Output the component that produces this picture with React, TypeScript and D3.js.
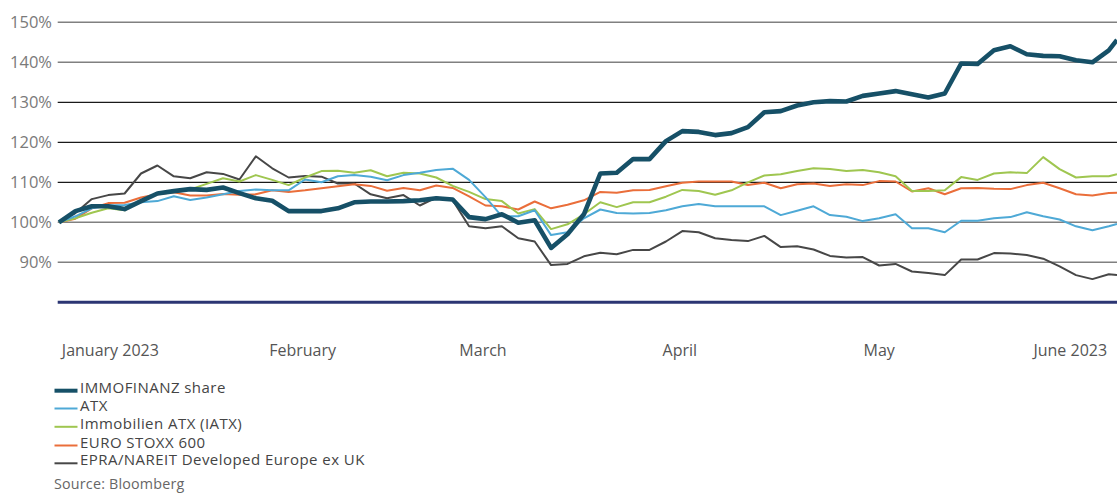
import { useMemo } from 'react'
import { scaleLinear, line, timeDay, range } from 'd3'

// trading days Jan 2 – Jun 30 2023, every second one plus the last
const allDays = timeDay
  .range(new Date(2023, 0, 2), new Date(2023, 6, 1))
  .filter((d) => d.getDay() !== 0 && d.getDay() !== 6)
const sampleIdx = [...range(0, allDays.length - 1, 2), allDays.length - 1]

const immofinanz = [
  100, 102.8, 104, 104, 103.3, 105.3, 107.2, 107.8, 108.3, 108.1, 108.7, 107.3, 106, 105.4, 102.8, 102.8,
  102.8, 103.5, 105, 105.2, 105.2, 105.3, 105.5, 106, 105.7, 101.3, 100.8, 102, 99.9, 100.5, 93.6, 97,
  102, 112.2, 112.4, 115.8, 115.8, 120.3, 122.8, 122.6, 121.8, 122.3, 123.8, 127.5, 127.8, 129.2, 130, 130.3,
  130.2, 131.6, 132.2, 132.8, 132, 131.2, 132.2, 139.7, 139.6, 143, 144, 142, 141.6, 141.5, 140.5, 140, 143,
  145.6,
]
const atx = [
  100, 101.5, 103.5, 104.2, 104.3, 105, 105.3, 106.5, 105.6, 106.2, 107, 107.8, 108.2, 108, 108, 110.7, 110,
  111.5, 111.8, 111.4, 110.5, 111.8, 112.4, 113.1, 113.4, 110.6, 106.3, 101.5, 101.5, 103, 96.8, 97.5, 101,
  103.2, 102.3, 102.2, 102.3, 103, 104, 104.6, 104, 104, 104, 104, 101.8, 102.9, 104, 101.8, 101.4, 100.3,
  101, 102, 98.5, 98.5, 97.5, 100.4, 100.4, 101, 101.3, 102.5, 101.5, 100.7, 99, 98, 99, 99.6,
]
const iatx = [
  100, 101, 102.4, 103.5, 103, 105.5, 107.3, 107.8, 108.2, 109.6, 111, 110.2, 111.8, 110.6, 109.3, 111.2,
  112.8, 112.9, 112.4, 113, 111.5, 112.4, 112.2, 111.2, 109.1, 107.6, 105.8, 105.3, 102.2, 103.3, 98.3, 99.5,
  102, 105, 103.8, 105, 105, 106.4, 108.1, 107.8, 106.9, 108, 110, 111.7, 112, 112.8, 113.5, 113.3, 112.8,
  113.1, 112.5, 111.5, 107.8, 107.8, 108, 111.3, 110.6, 112.2, 112.5, 112.3, 116.3, 113.3, 111.2, 111.5,
  111.5, 112,
]
const euroStoxx = [
  100, 100.9, 103.5, 104.8, 104.9, 106.2, 107, 107.5, 106.7, 106.7, 107.1, 106.9, 107, 108, 107.6, 108, 108.5,
  109, 109.5, 109.1, 107.9, 108.6, 108, 109.2, 108.6, 106.5, 104.2, 104, 103.2, 105.2, 103.5, 104.4, 105.5,
  107.6, 107.4, 108, 108.1, 109, 109.9, 110.2, 110.2, 110.2, 109.3, 109.9, 108.5, 109.5, 109.7, 109.1, 109.5,
  109.3, 110.3, 110.2, 107.7, 108.5, 107, 108.5, 108.6, 108.4, 108.3, 109.3, 109.9, 108.5, 107, 106.7, 107.3,
  107.4,
]
const epra = [
  100, 102.3, 105.8, 106.8, 107.2, 112.2, 114.2, 111.5, 111, 112.5, 112.1, 110.7, 116.5, 113.5, 111.2, 111.6,
  111.4, 109.7, 109.7, 107, 106, 106.8, 104.2, 106.2, 105.5, 99, 98.5, 99, 96, 95.2, 89.3, 89.6, 91.5, 92.4,
  92, 93.1, 93.1, 95.2, 97.8, 97.5, 96, 95.6, 95.3, 96.6, 93.8, 94, 93.2, 91.6, 91.2, 91.3, 89.2, 89.6, 87.7,
  87.3, 86.8, 90.7, 90.7, 92.3, 92.2, 91.8, 90.9, 89, 86.8, 85.8, 87, 86.8,
]

const seriesNames = [
  'IMMOFINANZ share',
  'ATX',
  'Immobilien ATX (IATX)',
  'EURO STOXX 600',
  'EPRA/NAREIT Developed Europe ex UK',
]
const seriesValues = [immofinanz, atx, iatx, euroStoxx, epra]
const seriesColors = ['#165067', '#4ea9d6', '#9fc650', '#ea6e3a', '#474747']
const seriesWidths = [4.6, 2, 2, 2, 2]

const yTicks = [90, 100, 110, 120, 130, 140, 150]
const darkTicks = [110, 120, 130]
const monthLabels = ['January 2023', 'February', 'March', 'April', 'May', 'June 2023']
const monthLabelIdx = [0.35, 29.7, 51.7, 75.7, 100, 123.3]

export default function App() {
  const W = 1117
  const H = 493
  const x = scaleLinear().domain([0, allDays.length - 1]).range([59, 1117])
  const y = scaleLinear().domain([80, 150]).range([302.3, 22.3])

  const paths = useMemo(
    () =>
      seriesValues.map((vals) =>
        line<number>()
          .x((_, i) => x(sampleIdx[i]))
          .y((v) => y(v))(vals)
      ),
    []
  )

  const font = "'Open Sans', 'Liberation Sans', sans-serif"
  const legendY = [390.7, 408.5, 426.8, 445.5, 463.3]

  return (
    <svg
      width={W}
      height={H}
      style={{ position: 'absolute', left: 0, top: 0, background: '#fff' }}
      fontFamily={font}
    >
      {yTicks.map((t) => (
        <g key={t}>
          <line
            x1={57.7}
            x2={W}
            y1={y(t)}
            y2={y(t)}
            stroke={darkTicks.includes(t) ? '#1a1a1a' : '#808080'}
            strokeWidth={darkTicks.includes(t) ? 1.3 : 1.6}
          />
          <text x={52} y={y(t) + 6} textAnchor="end" fontSize={16.5} fill="#7a7a7a">
            {t}%
          </text>
        </g>
      ))}
      <line x1={57.7} x2={W} y1={y(80)} y2={y(80)} stroke="#2b3573" strokeWidth={3} />

      {monthLabels.map((m, i) => (
        <text
          key={m}
          x={x(monthLabelIdx[i])}
          y={356}
          textAnchor={i === 0 ? 'start' : 'middle'}
          fontSize={16}
          fill="#555"
        >
          {m}
        </text>
      ))}

      {[4, 3, 2, 1, 0].map((s) => (
        <path
          key={s}
          d={paths[s] ?? ''}
          fill="none"
          stroke={seriesColors[s]}
          strokeWidth={seriesWidths[s]}
          strokeLinejoin="round"
        />
      ))}

      {seriesNames.map((n, i) => (
        <g key={n}>
          <line
            x1={54.5}
            x2={77.5}
            y1={legendY[i]}
            y2={legendY[i]}
            stroke={seriesColors[i]}
            strokeWidth={i === 0 ? 4 : 2}
          />
          <text x={80} y={legendY[i] + 2} fontSize={15} letterSpacing={0.45} fill="#444">
            {n}
          </text>
        </g>
      ))}
      <text x={54} y={488.5} fontSize={14.3} letterSpacing={0.2} fill="#666">
        Source: Bloomberg
      </text>
    </svg>
  )
}
